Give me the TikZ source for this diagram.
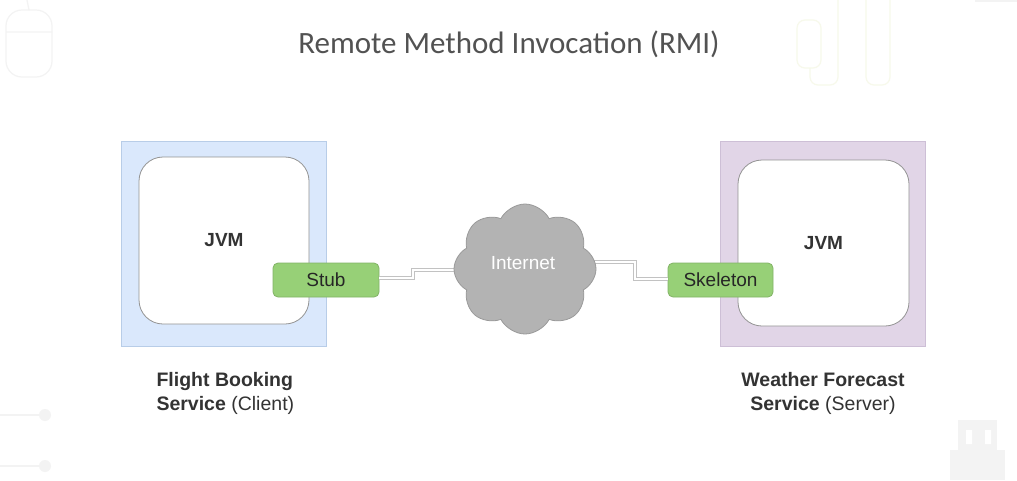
\documentclass[tikz,border=0pt]{standalone}
\usepackage{fontspec}
\setmainfont{Liberation Sans}
\newfontfamily\titlefont{Carlito}
\usetikzlibrary{shapes.symbols}
\definecolor{bluefill}{HTML}{DAE8FC}
\definecolor{blueline}{HTML}{B8CDE8}
\definecolor{purfill}{HTML}{E1D5E7}
\definecolor{purline}{HTML}{CDBFD6}
\definecolor{greenfill}{HTML}{97D077}
\definecolor{greenline}{HTML}{82B366}
\definecolor{cloudfill}{HTML}{B3B3B3}
\definecolor{cloudline}{HTML}{9A9A9A}
\definecolor{txt}{HTML}{333333}
\definecolor{faint}{HTML}{F3F3F3}
\definecolor{faintyel}{HTML}{F7F9EB}
\tikzset{
  outerbox/.style={draw, line width=0.8pt, minimum width=205pt, minimum height=205pt, inner sep=0pt},
  jvmbox/.style={draw=gray!85, fill=white, line width=0.8pt, rounded corners=24pt, minimum width=170pt, minimum height=167pt, font=\fontsize{19}{22}\selectfont\bfseries, text=txt},
  stubbox/.style={draw=greenline, fill=greenfill, line width=0.8pt, rounded corners=5pt, minimum width=106pt, minimum height=34pt, font=\fontsize{19}{22}\selectfont, text=black!85},
  link/.style={draw=black!24, line width=0.9pt, double=white, double distance=2pt},
  lbl/.style={font=\fontsize{19.5}{24}\selectfont, text=txt},
}
\begin{document}
\begin{tikzpicture}[x=1pt,y=-1pt]
\useasboundingbox[fill=white] (0,0) rectangle (1017,480);
% faint background decorations
\draw[faint, line width=1.2pt, rounded corners=16pt] (6,10) rectangle (52,77);
\draw[faint, line width=1.2pt] (6,32) -- (52,32) (29,10) -- (27,0);
\draw[faint, line width=2pt] (0,415) -- (45,415) (0,466) -- (45,466);
\fill[faint] (45,415) circle (6) (45,466) circle (6);
\fill[faint] (950,450) rectangle (1005,480);
\fill[faint] (958,420) rectangle (997,450);
\fill[white] (966,430) rectangle (972,444) (985,430) rectangle (991,444);
\draw[faintyel, line width=1.2pt, rounded corners=8pt] (797,20) rectangle (821,68) (810,68) -- (810,85) -- (838,85) -- (838,0) (866,0) -- (866,85) -- (890,85) -- (890,0);
\fill[faint] (975,0) rectangle (1017,2);
% title
\node (title) at (509,44) {\titlefont\fontsize{31}{36}\selectfont\color{black!68}Remote Method Invocation (RMI)};
% left side
\node[outerbox, draw=blueline, fill=bluefill] (outerL) at (223.5,243.5) {};
\node[jvmbox] (jvmL) at (224,240.5) {JVM};
% right side
\node[outerbox, draw=purline, fill=purfill] (outerR) at (822.5,243.5) {};
\node[jvmbox, minimum width=171pt, minimum height=166pt] (jvmR) at (823.5,243) {JVM};
% stub / skeleton
\node[stubbox] (stub) at (326,280) {Stub};
\node[stubbox, minimum width=105pt] (skel) at (720.5,280) {Skeleton};
% connector coordinates
\coordinate (lk1) at (413,278);
\coordinate (lk2) at (413,270);
\coordinate (lk3) at (490,270);
\coordinate (rk1) at (560,262);
\coordinate (rk2) at (635,262);
\coordinate (rk3) at (635,279);
\draw[link] (stub.east |- lk1) -- (lk1) -- (lk2) -- (lk3);
\draw[link] (rk1) -- (rk2) -- (rk3) -- (skel.west |- rk3);
% cloud
\node[cloud, cloud puffs=8, cloud puff arc=125, aspect=1.08, draw=cloudline, fill=cloudfill, line width=0.8pt, minimum width=142pt, minimum height=130pt, inner sep=0pt] (cloud) at (525,269) {};
\node[text=white, font=\fontsize{19}{22}\selectfont] (inet) at (523,263) {Internet};
% labels
\node[lbl, align=left, anchor=west] (lblL) at (153,393) {\textbf{Flight Booking}\\\textbf{Service} (Client)};
\node[lbl, align=center] (lblR) at (823,393) {\textbf{Weather Forecast}\\\textbf{Service} (Server)};
\end{tikzpicture}
\end{document}
